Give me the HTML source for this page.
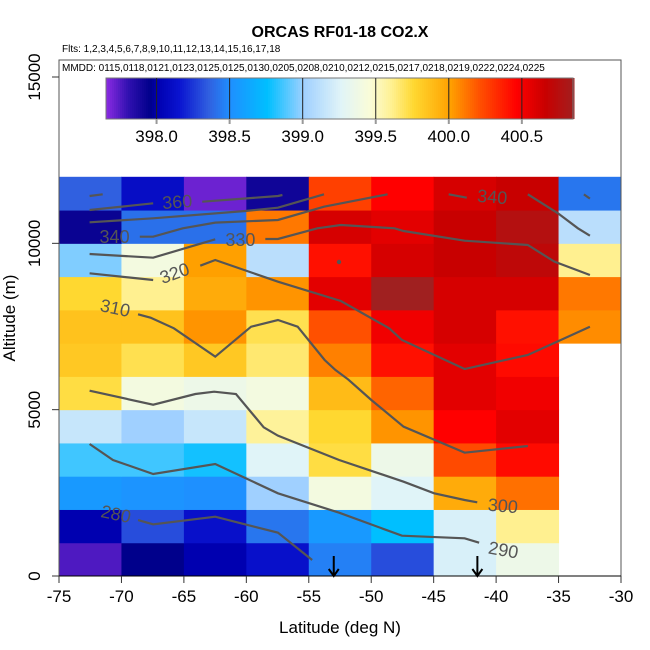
<!DOCTYPE html>
<html><head><meta charset="utf-8"><style>
html,body{margin:0;padding:0;background:#fff;}
svg{display:block;font-family:"Liberation Sans",sans-serif;}
</style></head><body>
<svg id="chart" width="650" height="650" viewBox="0 0 650 650"></svg>
<script>
// ---- data ----
const latEdges = [-75,-70,-65,-60,-55,-50,-45,-40,-35,-30];
const altEdges = [0,1000,2000,3000,4000,5000,6000,7000,8000,9000,10000,11000,12000];
// rows bottom (0-1km) to top (11-12km); null = no data
const co2Row0  = [397.75,397.95,398.0,398.12,398.45,398.3,399.22,399.35,null];
const co2Row1  = [398.0,398.3,398.12,398.42,398.55,398.75,399.22,399.6,null];
const co2Row2  = [398.55,398.52,398.5,399.0,399.4,399.25,399.95,400.12,null];
const co2Row3  = [398.85,398.85,398.78,399.25,399.72,399.35,400.22,400.42,null];
const co2Row4  = [399.15,399.0,399.15,399.58,399.75,400.03,400.45,400.55,null];
const co2Row5  = [399.72,399.4,399.35,399.4,399.88,400.15,400.55,400.5,null];
const co2Row6  = [399.82,399.7,399.82,399.65,400.08,400.4,400.55,400.42,null];
const co2Row7  = [399.85,399.85,400.03,399.7,400.2,400.5,400.6,400.4,400.05];
const co2Row8  = [399.75,399.6,399.95,400.03,400.55,400.85,400.6,400.6,400.1];
const co2Row9  = [398.95,399.4,400.0,399.1,400.4,400.6,400.65,400.7,399.6];
const co2Row10 = [397.92,398.4,398.4,400.1,400.6,400.55,400.65,400.75,399.1];
const co2Row11 = [398.35,398.1,397.7,397.9,400.25,400.45,400.6,400.65,398.42];
const co2Rows = [co2Row0,co2Row1,co2Row2,co2Row3,co2Row4,co2Row5,co2Row6,co2Row7,co2Row8,co2Row9,co2Row10,co2Row11];
const xTicks = [-75,-70,-65,-60,-55,-50,-45,-40,-35,-30];
const yTicks = [0,5000,10000,15000];
const cbTicks = [398.0,398.5,399.0,399.5,400.0,400.5];
const cbRange = [397.654,400.85];
const arrowLats = [-53.0,-41.5];
// contour lines: [lat, alt] pairs
const contours = [
 [[-72.55,11423],[-71.5,11473]],
 [[-72.55,11002],[-67.46,11203]],
 [[-63.53,11252],[-57.46,11423],[-57.11,11453]],
 [[-43.8,11473],[-42.35,11373]],
 [[-37.46,11473],[-35.05,10903],[-33.45,10452],[-32.49,10231]],
 [[-32.97,11473],[-32.49,11343]],
 [[-72.55,10632],[-67.46,10752],[-60.08,10972],[-57.47,11072],[-53.78,11473]],
 [[-68.53,10200],[-67.46,10200],[-65.09,10452],[-62.49,10622],[-57.47,10702],[-53.78,11102],[-48.69,11473]],
 [[-72.55,9679],[-67.46,9569],[-62.49,10121]],
 [[-58.48,10131],[-57.47,10131],[-54.31,10452],[-52.43,10551],[-48.13,10452],[-47.41,10371],[-42.52,10080],[-37.46,9950],[-35.33,9449],[-32.49,9048]],
 [[-72.55,9099],[-67.46,8898]],
 [[-63.69,9328],[-62.49,9499],[-57.47,8847],[-52.43,8267],[-48.56,7446],[-47.54,7094],[-42.52,6222],[-37.46,6643],[-32.49,7494]],
 [[-68.67,7867],[-67.67,7766],[-65.80,7446],[-62.49,6593],[-59.62,7494],[-57.47,7695],[-55.89,7494],[-53.73,6493],[-52.86,6192],[-51.86,5913],[-49.99,5291],[-47.41,4488],[-42.52,3707],[-37.46,3908]],
 [[-72.55,5570],[-67.46,5149],[-64.08,5471],[-62.58,5540],[-60.83,5471],[-58.61,4470],[-57.47,4218],[-52.57,3487],[-47.41,2835],[-44.96,2486],[-42.52,2285],[-41.51,2215]],
 [[-72.55,3968],[-70.68,3487],[-67.46,3066],[-62.49,3367],[-57.47,2486],[-52.57,1903],[-47.54,1212],[-42.52,1133],[-41.36,1001]],
 [[-68.67,1683],[-67.46,1553],[-62.49,1783],[-57.47,1302],[-54.73,481]]
];
const contourLabels = [["360",-65.5,11062,-4],["340",-40.35,11212,5],["340",-70.55,10010,0],["330",-60.48,9920,0],["320",-65.58,8928,-20],["310",-70.6,7876,12],["300",-39.5,1924,5],["290",-39.5,601,10],["280",-70.54,1683,12]];

// ---- scales ----
const X0=59,X1=621,Y0=576,Y1=77;
const sx = v => X0 + (v+75)/45*(X1-X0);
const sy = v => Y0 - v/15000*(Y0-Y1);
const CB0=106,CB1=573;
const sc = v => CB0 + (v-cbRange[0])/(cbRange[1]-cbRange[0])*(CB1-CB0);
const stops=[[397.65,'#8a2be2'],[397.8,'#3010b0'],[397.95,'#00008b'],[398.0,'#0000b0'],[398.15,'#0a14d0'],[398.35,'#3060e0'],[398.5,'#1e90ff'],[398.75,'#00bfff'],[399.0,'#a0d0ff'],[399.25,'#e0f4f8'],[399.45,'#fafcd8'],[399.6,'#fff090'],[399.75,'#ffd830'],[400.0,'#ffa000'],[400.2,'#ff5000'],[400.45,'#ff0000'],[400.65,'#c80000'],[400.85,'#a02020']];
function hx(c){return [1,3,5].map(i=>parseInt(c.substr(i,2),16));}
function cmap(v){
 if(v<=stops[0][0])return stops[0][1];
 for(let i=1;i<stops.length;i++){ if(v<=stops[i][0]){
  const [a,ca]=stops[i-1],[b,cb]=stops[i];const t=(v-a)/(b-a);
  const A=hx(ca),B=hx(cb);return 'rgb('+A.map((q,k)=>Math.round(q+(B[k]-q)*t)).join(',')+')';}}
 return stops[stops.length-1][1];
}
const NS='http://www.w3.org/2000/svg';
const svg=document.getElementById('chart');
function el(t,a,p){const e=document.createElementNS(NS,t);for(const k in a)e.setAttribute(k,a[k]);(p||svg).appendChild(e);return e;}

// heatmap
const gH=el('g',{});


co2Rows.forEach((row,r)=>row.forEach((v,c)=>{
 if(v===null)return;
 const x=sx(latEdges[c]),x2=sx(latEdges[c+1]),y=sy(altEdges[r+1]),y2=sy(altEdges[r]);
 const e=el('rect',{x:x,y:y,width:x2-x+0.5,height:y2-y+0.5,fill:cmap(v)},gH);
 
 
}));

// contours
contours.forEach(pts=>{
 const e=el('polyline',{points:pts.map(p=>sx(p[0])+','+sy(p[1])).join(' '),fill:'none',stroke:'#555','stroke-width':2.2});
 
 
});
contourLabels.forEach(l=>{
 const x=sx(l[1]),y=sy(l[2]);
 const e=el('text',{x:x,y:y,'font-size':18,fill:'#555','text-anchor':'middle',transform:'rotate('+l[3]+' '+x+' '+y+')'});
 e.textContent=l[0];
 
 
});
{const d=el('circle',{cx:339,cy:262,r:2.2,fill:'#555'});}

// arrows
arrowLats.forEach(a=>{
 const x=sx(a);
 const g=el('g',{stroke:'#000','stroke-width':2,fill:'none'});
 
 
 el('line',{x1:x,y1:556,x2:x,y2:576},g);
 el('polyline',{points:(x-5)+',569 '+x+',576 '+(x+5)+',569'},g);
});

// frame
{const f=el('rect',{x:X0,y:60,width:X1-X0,height:Y0-60,fill:'none',stroke:'#555','stroke-width':1});}
{const f=el('line',{x1:X0,y1:Y0,x2:X1,y2:Y0,stroke:'#000','stroke-width':1});}

// x ticks
xTicks.forEach(t=>{
 const x=sx(t);
 el('line',{x1:x,y1:Y0,x2:x,y2:583,stroke:'#333'});
 const e=el('text',{x:x,y:602,'font-size':17,'text-anchor':'middle',fill:'#000'});
 e.textContent=t;
 
 
});
yTicks.forEach(t=>{
 const y=sy(t);
 el('line',{x1:X0,y1:y,x2:52,y2:y,stroke:'#333'});
 const e=el('text',{x:40,y:y,'font-size':17,'text-anchor':'middle',fill:'#000',transform:'rotate(-90 40 '+y+')'});
 e.textContent=t;
 
 
});
{const e=el('text',{x:340,y:633,'font-size':17,'text-anchor':'middle'});e.textContent='Latitude (deg N)';}
{const e=el('text',{x:15,y:318,'font-size':17,'text-anchor':'middle',transform:'rotate(-90 15 318)'});e.textContent='Altitude (m)';}
{const e=el('text',{x:340,y:37,'font-size':16,'font-weight':'bold','text-anchor':'middle'});e.textContent='ORCAS RF01-18 CO2.X';}
{const e=el('text',{x:62,y:52,'font-size':10});e.textContent='Flts: 1,2,3,4,5,6,7,8,9,10,11,12,13,14,15,16,17,18';}
{const e=el('text',{x:62,y:71,'font-size':10});e.textContent='MMDD: 0115,0118,0121,0123,0125,0125,0130,0205,0208,0210,0212,0215,0217,0218,0219,0222,0224,0225';}

// colorbar
const gC=el('g',{});


for(let i=0;i<234;i++){
 const v=cbRange[0]+(cbRange[1]-cbRange[0])*i/234;
 el('rect',{x:CB0+i*2,y:78,width:2.5,height:41,fill:cmap(v)},gC);
}
el('rect',{x:CB0,y:78,width:CB1-CB0,height:41,fill:'none',stroke:'#777'},gC);
cbTicks.forEach(t=>{
 const x=sc(t);
 el('line',{x1:x,y1:78,x2:x,y2:119,stroke:'#222'},gC);
 el('line',{x1:x,y1:119,x2:x,y2:124,stroke:'#999','stroke-width':2},gC);
 const e=el('text',{x:x,y:142,'font-size':17,'text-anchor':'middle'},gC);
 e.textContent=t.toFixed(1);
 
 
});
</script>
</body></html>
